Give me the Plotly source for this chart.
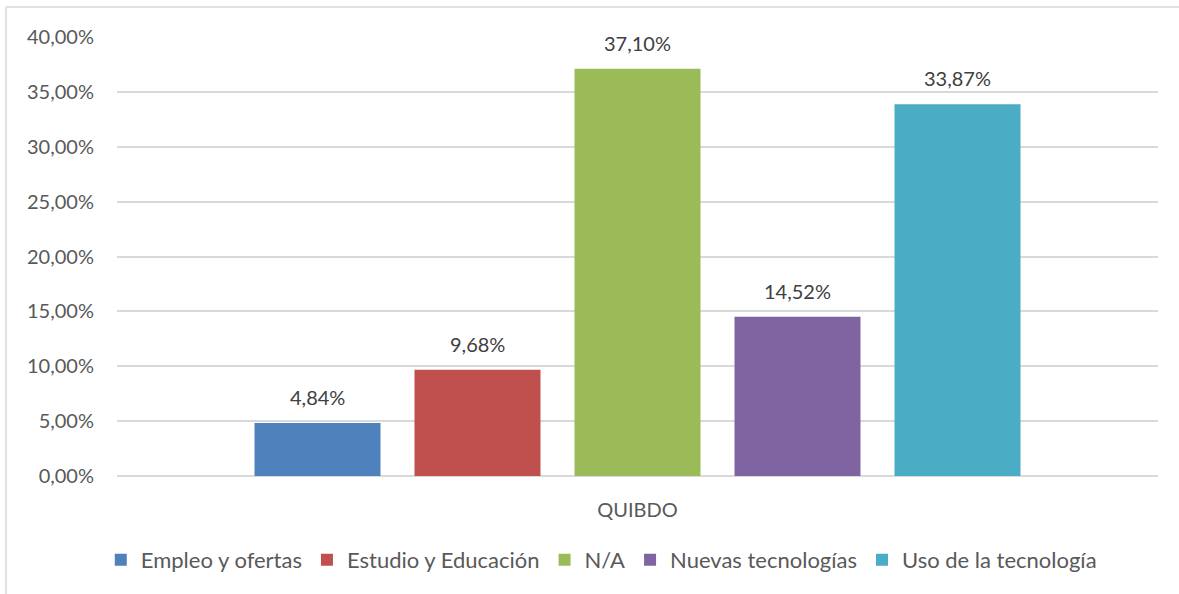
import plotly.graph_objects as go

categories = ["QUIBDO"]
series_names = ["Empleo y ofertas", "Estudio y Educación", "N/A",
                "Nuevas tecnologías", "Uso de la tecnología"]
series_values = [0.0484, 0.0968, 0.3710, 0.1452, 0.3387]
series_colors = ["#4F81BD", "#C0504D", "#9BBB59", "#8064A2", "#4BACC6"]
y_ticks = [0, 0.05, 0.10, 0.15, 0.20, 0.25, 0.30, 0.35, 0.40]

FONT = "Lato, 'Open Sans', sans-serif"
TEXT = "#595959"
BARGAP = 0.2315
GROUPGAP = 0.2125

fig = go.Figure()
for name, val, col in zip(series_names, series_values, series_colors):
    fig.add_trace(go.Bar(
        x=categories, y=[val], name=name,
        marker=dict(color=col, line=dict(width=0)),
    ))

# value labels above each bar, centred on its slot in the group
n = len(series_values)
slot = (1 - BARGAP) / n
annotations = []
for i, val in enumerate(series_values):
    annotations.append(dict(
        xref="x", yref="y",
        x=-(1 - BARGAP) / 2 + slot * (i + 0.5), y=val,
        text=f"{val * 100:.2f}%".replace(".", ","),
        showarrow=False, yanchor="bottom", yshift=12,
        font=dict(family=FONT, size=20, color="#404040"),
    ))

W, H = 1179, 594
ml, mr, mt, mb = 117, 21, 37, 118
pw, ph = W - ml - mr, H - mt - mb

fig.update_layout(
    width=W, height=H,
    margin=dict(l=ml, r=mr, t=mt, b=mb),
    paper_bgcolor="white", plot_bgcolor="white",
    separators=",.",
    barmode="group", bargap=BARGAP, bargroupgap=GROUPGAP,
    font=dict(family=FONT, size=20, color=TEXT),
    showlegend=True,
    legend=dict(orientation="h", xref="container", x=0.51, xanchor="center",
                yref="container", y=0.022, yanchor="bottom",
                font=dict(family=FONT, size=22, color=TEXT),
                itemwidth=30, traceorder="normal"),
    xaxis=dict(showgrid=False, showline=False, ticks="",
               ticklabelstandoff=20,
               tickfont=dict(family=FONT, size=20, color=TEXT)),
    yaxis=dict(range=[0, 0.40], tickvals=y_ticks, tickformat=".2%",
               showgrid=True, gridcolor="#D9D9D9", gridwidth=1.5,
               zeroline=True, zerolinecolor="#D9D9D9", zerolinewidth=1.5,
               showline=False, ticks="", ticklen=0,
               ticklabelstandoff=22,
               tickfont=dict(family=FONT, size=20, color=TEXT)),
    annotations=annotations,
    shapes=[
        dict(type="line", xref="paper", yref="paper",
             x0=(6 - ml) / pw, x1=(W + 5 - ml) / pw,
             y0=(H - mb - 7) / ph, y1=(H - mb - 7) / ph,
             line=dict(color="#D9D9D9", width=1.5)),
        dict(type="line", xref="paper", yref="paper",
             x0=(6 - ml) / pw, x1=(6 - ml) / pw,
             y0=(H - mb - 7) / ph, y1=-(mb + 5) / ph,
             line=dict(color="#D9D9D9", width=1.5)),
    ],
)

fig.write_html("out.html")
